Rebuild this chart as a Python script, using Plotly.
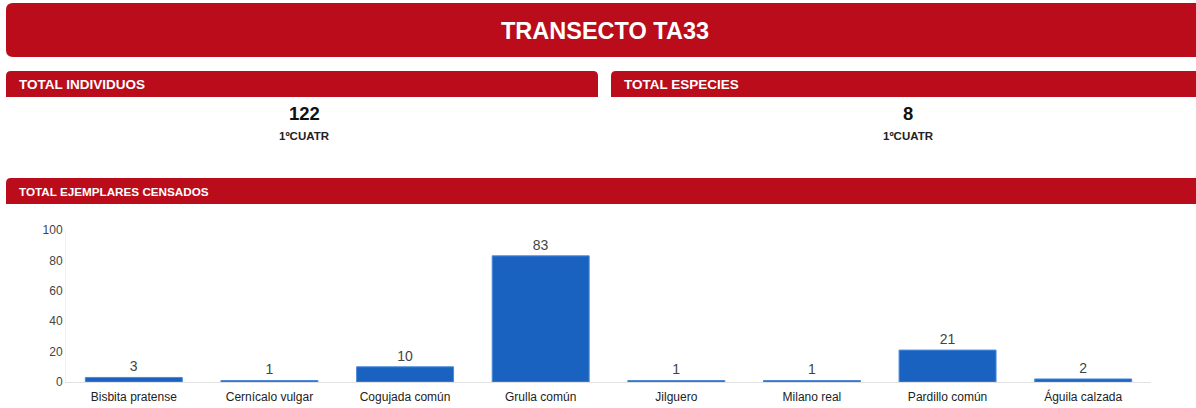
import plotly.graph_objects as go

species = ["Bisbita pratense", "Cernícalo vulgar", "Cogujada común", "Grulla común",
           "Jilguero", "Milano real", "Pardillo común", "Águila calzada"]
counts = [3, 1, 10, 83, 1, 1, 21, 2]
y_ticks = [0, 20, 40, 60, 80, 100]

title_text = "TRANSECTO TA33"
total_individuos = "122"
total_especies = "8"
period = "1ºCUATR"

W, H = 1196, 408
L, R, T, B = 66, 45, 230, 26
PW, PH = W - L - R, H - T - B
RED = "#BA0C1A"
FONT = "Liberation Sans, Arial, sans-serif"


def px(x):
    return (x - L) / PW


def py(y):
    return (H - B - y) / PH


def rounded(x0, y0, x1, y1, r, bottom=True):
    def P(x, y):
        return f"{px(x):.5f},{py(y):.5f}"
    d = f"M {P(x0 + r, y0)} L {P(x1 - r, y0)} Q {P(x1, y0)} {P(x1, y0 + r)} "
    if bottom:
        d += f"L {P(x1, y1 - r)} Q {P(x1, y1)} {P(x1 - r, y1)} L {P(x0 + r, y1)} Q {P(x0, y1)} {P(x0, y1 - r)} "
    else:
        d += f"L {P(x1, y1)} L {P(x0, y1)} "
    d += f"L {P(x0, y0 + r)} Q {P(x0, y0)} {P(x0 + r, y0)} Z"
    return d


shapes = [
    dict(type="path", xref="paper", yref="paper", path=rounded(6, 3, 1206, 57, 7),
         fillcolor=RED, line=dict(width=0), layer="above"),
    dict(type="path", xref="paper", yref="paper", path=rounded(6, 71, 598, 97, 5, bottom=False),
         fillcolor=RED, line=dict(width=0), layer="above"),
    dict(type="path", xref="paper", yref="paper", path=rounded(611, 71, 1206, 97, 5, bottom=False),
         fillcolor=RED, line=dict(width=0), layer="above"),
    dict(type="path", xref="paper", yref="paper", path=rounded(6, 178, 1206, 204, 5, bottom=False),
         fillcolor=RED, line=dict(width=0), layer="above"),
]


def ann(text, x, y, size, color="#222", bold=True, xanchor="center"):
    return dict(text=f"<b>{text}</b>" if bold else text, x=px(x), y=py(y),
                xref="paper", yref="paper", showarrow=False, xanchor=xanchor,
                yanchor="middle", font=dict(family=FONT, size=size, color=color))


annotations = [
    ann(title_text, 605, 31, 23.5, "white"),
    ann("TOTAL INDIVIDUOS", 17, 84, 13.5, "white", xanchor="left"),
    ann("TOTAL ESPECIES", 622, 84, 13.5, "white", xanchor="left"),
    ann(total_individuos, 304, 113, 18.5, "#111"),
    ann(period, 304, 136, 11.5, "#222"),
    ann(total_especies, 908, 113, 18.5, "#111"),
    ann(period, 908, 136, 11.5, "#222"),
    ann("TOTAL EJEMPLARES CENSADOS", 17, 191, 11.7, "white", xanchor="left"),
]

fig = go.Figure(go.Bar(
    x=species, y=counts, text=counts, textposition="outside", cliponaxis=False,
    marker=dict(color="#1A62C0", line=dict(color="#4C8BDB", width=1)),
    textfont=dict(family=FONT, size=14, color="#444"),
    width=0.715,
))

fig.update_layout(
    width=W, height=H, margin=dict(l=L, r=R, t=T, b=B, autoexpand=False),
    paper_bgcolor="white", plot_bgcolor="white",
    showlegend=False, shapes=shapes, annotations=annotations,
    font=dict(family=FONT),
    xaxis=dict(showgrid=False, showline=True, linecolor="#E2E2E2", linewidth=1,
               ticks="", ticklabelstandoff=4,
               tickfont=dict(size=12, color="#222"), fixedrange=True),
    yaxis=dict(range=[0, 100], tickvals=y_ticks, showgrid=False, zeroline=False,
               showline=True, linecolor="#F0F0F0", ticks="",
               tickfont=dict(size=12, color="#444"), fixedrange=True),
)

fig.write_html("out.html", config={"displayModeBar": False},
               post_script="document.body.style.margin='0';document.body.style.overflow='hidden';")
